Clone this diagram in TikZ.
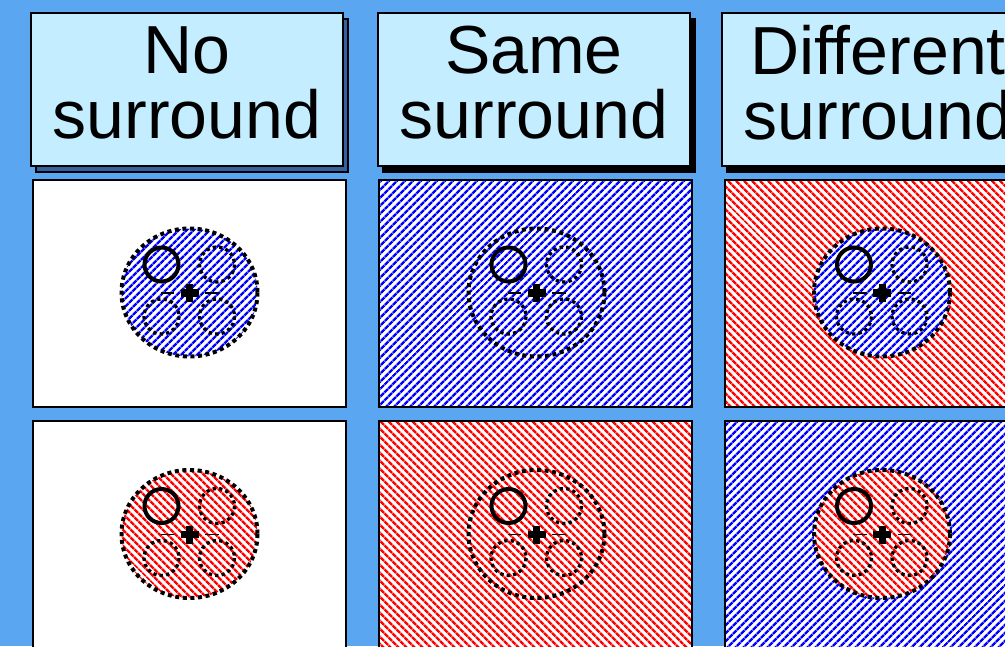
\documentclass[tikz,border=0pt]{standalone}
\usepackage{fontspec}
\setmainfont{Liberation Sans}
\usetikzlibrary{patterns.meta}
\definecolor{bg}{RGB}{90,166,240}
\definecolor{hdr}{RGB}{196,238,255}
\definecolor{shad}{RGB}{52,98,158}
\definecolor{sblue}{RGB}{0,0,255}
\definecolor{sred}{RGB}{255,0,0}
\tikzset{
 bluepat/.style={preaction={fill=white}, pattern={Lines[angle=45,distance=5.4pt,line width=2.6pt]}, pattern color=sblue},
 redpat/.style={preaction={fill=white}, pattern={Lines[angle=-45,distance=5.4pt,line width=2.6pt]}, pattern color=sred},
 whitepat/.style={fill=white},
 panel/.style={draw=black, line width=2pt, minimum width=313pt, minimum height=227pt, inner sep=0pt},
 header/.style={draw=black, line width=2pt, fill=hdr, minimum width=312pt, minimum height=153pt, inner sep=0pt},
 shadowbox/.style={draw=black, line width=1.5pt, minimum width=312pt, minimum height=153pt, inner sep=0pt},
 htext/.style={font=\fontsize{68}{65}\selectfont, align=center, inner sep=0pt},
 bigdots/.style={line width=4pt, dash pattern=on 4pt off 3.6pt},
 smalldots/.style={line width=3.3pt, dash pattern=on 3.3pt off 3.2pt},
 ring/.style={line width=4pt},
 crossline/.style={line width=1.5pt},
}
\newcommand\stim[3]{%
 \begin{scope}[shift={(#1,#2)}]
  \path[#3] (0,0) ellipse [x radius=68, y radius=64];
  \draw[bigdots] (0,0) ellipse [x radius=68, y radius=64];
  \draw[ring] (-28,-28) circle [radius=17];
  \draw[smalldots] (27.5,-28) circle [radius=17.5];
  \draw[smalldots] (-28,24) circle [radius=17.5];
  \draw[smalldots] (27.5,24) circle [radius=17.5];
  \draw[crossline] (-29,0.5) -- (-15.5,0.5);
  \draw[crossline] (15.5,0.5) -- (29,0.5);
  \fill (-9,-3.5) rectangle (9,4);
  \fill (-3.5,-8.5) rectangle (3.5,9.5);
 \end{scope}}
\begin{document}
\begin{tikzpicture}[x=1pt,y=-1pt]
\useasboundingbox (0,0) rectangle (1005,646);
\clip (0,0) rectangle (1005,646);
\fill[bg] (0,0) rectangle (1005,646);
% headers
\node[shadowbox, fill=shad] (s1) at (192,95.5) {};
\node[shadowbox, fill=black] (s2) at (539,95.5) {};
\node[shadowbox, fill=black] (s3) at (883,95.5) {};
\node[header] (h1) at (187,89.5) {};
\node[header] (h2) at (534,89.5) {};
\node[header] (h3) at (878,89.5) {};
\node[htext] (t1) at (187,82.5) {No\\surround};
\node[htext] (t2) at (534,82.5) {Same\\surround};
\node[htext] (t3) at (878,82.5) {Different\\surround};
% panels
\node[panel, whitepat] (p11) at (189.5,293.5) {};
\node[panel, bluepat] (p12) at (535.5,293.5) {};
\node[panel, redpat] (p13) at (881.5,293.5) {};
\node[panel, whitepat] (p21) at (189.5,534.5) {};
\node[panel, redpat] (p22) at (535.5,534.5) {};
\node[panel, bluepat] (p23) at (881.5,534.5) {};
% stimuli
\stim{189.5}{292.5}{bluepat}
\stim{536.5}{292.5}{}
\stim{882}{292.5}{bluepat}
\stim{189.5}{534}{redpat}
\stim{536.5}{534}{}
\stim{882}{534}{redpat}
\end{tikzpicture}
\end{document}
